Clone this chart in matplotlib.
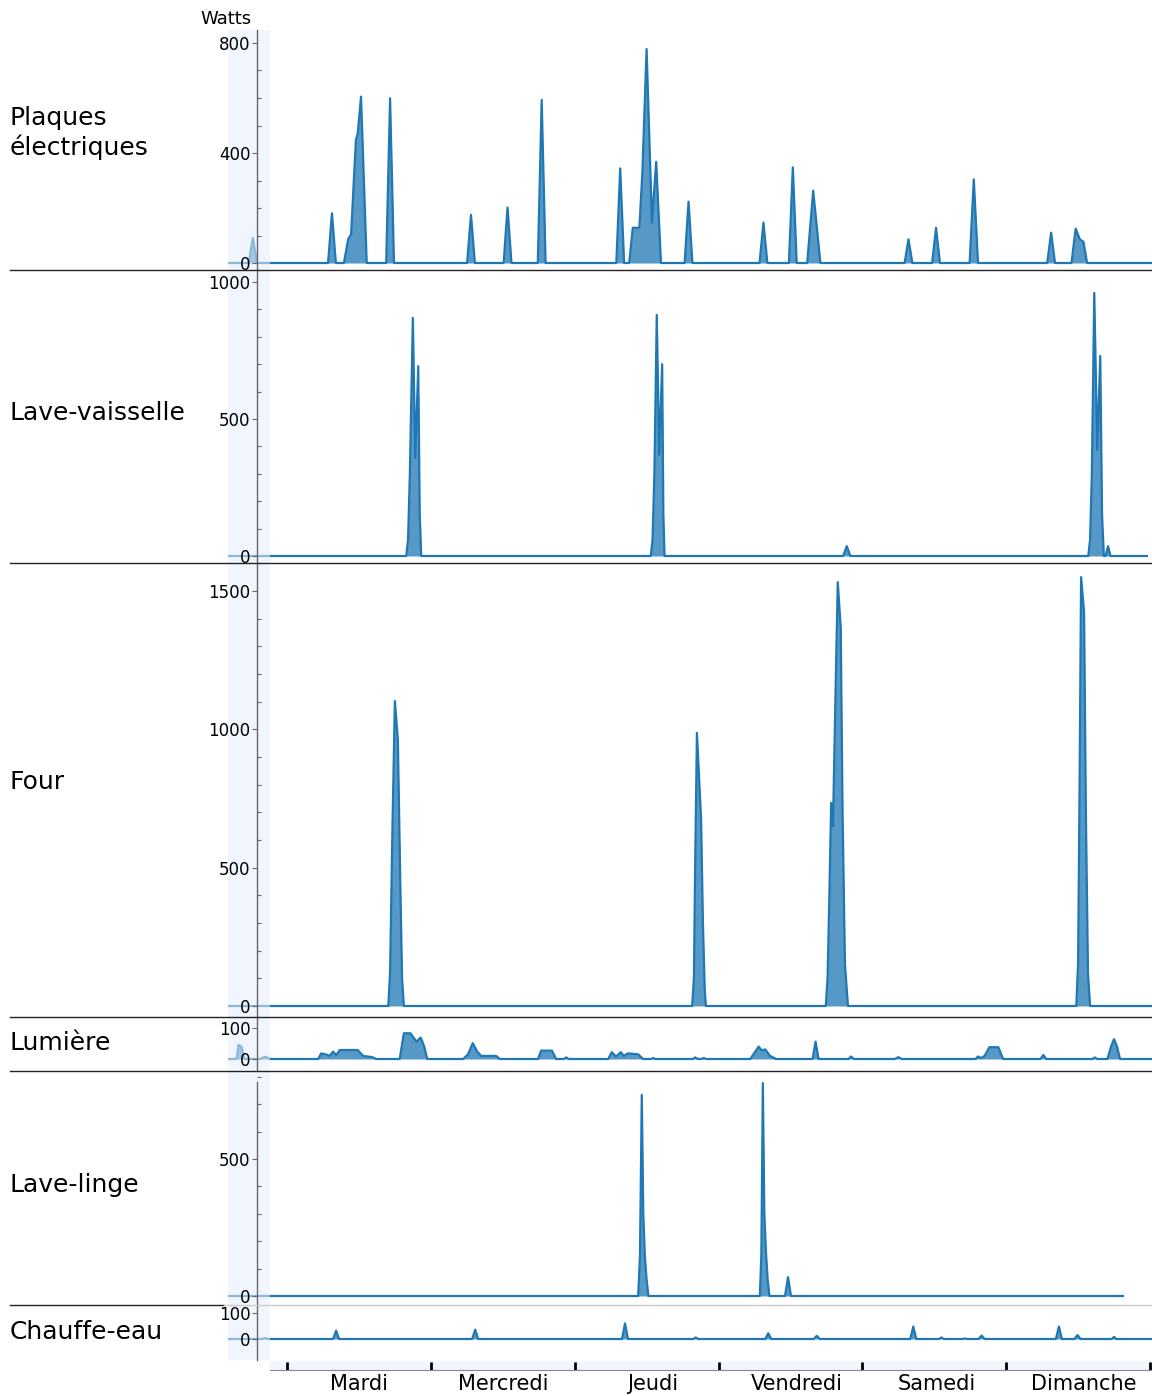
import matplotlib
matplotlib.use("Agg")
import matplotlib.pyplot as plt
from matplotlib.lines import Line2D
from matplotlib.ticker import MultipleLocator, FixedLocator

plt.rcParams['font.family'] = ['DejaVu Sans']

# ---------------- data (hours from Tuesday 00:00, Watts) ----------------
plaques_hours = [-9.8, -6.4, -5.7, -5.0,
                 6.85, 7.5, 8.15,
                 9.5, 10.2, 10.7, 11.5, 11.8, 12.35, 13.3,
                 16.55, 17.2, 17.85,
                 30.05, 30.7, 31.35,
                 36.15, 36.8, 37.45,
                 41.85, 42.5, 43.15,
                 54.95, 55.6, 56.25,
                 57.1, 57.7, 58.8, 59.3, 60.0, 60.9, 61.6, 62.4,
                 66.35, 67.0, 67.65,
                 78.85, 79.5, 80.15,
                 83.75, 84.4, 85.05,
                 86.8, 87.8, 89.0,
                 103.05, 103.7, 104.35,
                 107.65, 108.3, 108.95,
                 113.9, 114.6, 115.3,
                 126.85, 127.5, 128.15,
                 130.9, 131.6, 132.3, 132.9, 133.5,
                 144.4]
plaques_watts = [0, 0, 91, 0,
                 0, 181, 0,
                 0, 86, 105, 447, 470, 605, 0,
                 0, 599, 0,
                 0, 175, 0,
                 0, 202, 0,
                 0, 593, 0,
                 0, 344, 0,
                 0, 128, 128, 330, 778, 147, 368, 0,
                 0, 223, 0,
                 0, 147, 0,
                 0, 348, 0,
                 0, 263, 0,
                 0, 86, 0,
                 0, 128, 0,
                 0, 304, 0,
                 0, 110, 0,
                 0, 125, 86, 77, 0,
                 0]

lavevaisselle_hours = [-9.8, 19.9, 20.2, 20.5, 21.0, 21.4, 21.9, 22.15, 22.4,
                       60.7, 61.0, 61.3, 61.7, 62.1, 62.6, 62.8, 63.0,
                       92.8, 93.4, 94.0,
                       133.7, 134.0, 134.3, 134.7, 135.2, 135.7, 136.0, 136.3,
                       136.6, 137.0, 137.4, 143.5]
lavevaisselle_watts = [0, 0, 60, 300, 869, 358, 693, 150, 0,
                       0, 60, 300, 880, 369, 700, 150, 0,
                       0, 36, 0,
                       0, 60, 300, 960, 387, 730, 150, 0,
                       0, 36, 0, 0]

four_hours = [-9.8,
              16.9, 17.2, 17.6, 18.0, 18.5, 18.9, 19.2, 19.5,
              67.6, 67.9, 68.1, 68.4, 69.1, 69.4, 69.7, 69.9,
              89.9, 90.2, 90.5, 90.8, 91.1, 91.5, 91.9, 92.4, 92.7, 93.1, 93.6,
              131.7, 132.0, 132.25, 132.5, 133.0, 133.3, 133.65, 134.0,
              144.4]
four_watts = [0,
              0, 120, 650, 1102, 961, 450, 100, 0,
              0, 100, 500, 987, 672, 300, 60, 0,
              0, 100, 400, 734, 650, 1100, 1532, 1366, 700, 150, 0,
              0, 150, 800, 1550, 1424, 700, 120, 0,
              0]

lumiere_hours = [-9.8, -8.4, -8.1, -7.6, -7.1, -4.5, -3.6, -2.8,
                 5.2, 5.7, 6.6, 7.1, 7.7, 8.2, 8.8, 11.8, 12.7, 14.2, 14.9,
                 18.8, 19.5, 20.6, 21.6, 22.3, 22.9, 23.4,
                 29.4, 30.2, 31.0, 31.7, 32.4, 34.9, 35.5,
                 41.9, 42.4, 44.2, 44.9,
                 46.2, 46.6, 47.0,
                 53.6, 54.2, 54.9, 55.7, 56.2, 56.9, 58.6, 59.4,
                 60.7, 61.1, 61.5,
                 67.7, 68.1, 68.6, 69.1, 69.5, 70.0,
                 77.3, 78.7, 79.2, 79.8, 80.6, 81.6,
                 87.7, 88.2, 88.7,
                 93.7, 94.1, 94.6,
                 101.4, 102.0, 102.6,
                 114.9, 115.3, 115.8, 116.4, 117.2, 118.7, 119.5,
                 125.7, 126.2, 126.7,
                 134.4, 134.8, 135.2,
                 136.9, 137.5, 138.0, 138.5, 139.0,
                 144.4]
lumiere_watts = [0, 0, 45, 40, 0, 0, 7, 0,
                 0, 18, 14, 10, 24, 12, 29, 29, 10, 6, 0,
                 0, 83, 83, 56, 69, 40, 0,
                 0, 15, 51, 25, 10, 10, 0,
                 0, 27, 27, 0,
                 0, 5, 0,
                 0, 22, 8, 22, 10, 18, 15, 0,
                 0, 3, 0,
                 0, 5, 0, 0, 3, 0,
                 0, 40, 28, 31, 10, 0,
                 0, 56, 0,
                 0, 8, 0,
                 0, 6, 0,
                 0, 8, 3, 10, 38, 38, 0,
                 0, 13, 0,
                 0, 5, 0,
                 0, 40, 64, 40, 0,
                 0]

lavelinge_hours = [-9.8, 58.6, 58.9, 59.2, 59.45, 59.7, 60.0, 60.3,
                   78.9, 79.15, 79.4, 79.65, 79.9, 80.2, 80.5,
                   83.1, 83.6, 84.1, 139.5]
lavelinge_watts = [0, 0, 150, 734, 300, 150, 60, 0,
                   0, 150, 777, 300, 168, 60, 0,
                   0, 69, 0, 0]

chauffeeau_hours = [-9.8, -4.2, -3.7, -3.2,
                    7.7, 8.2, 8.7,
                    30.9, 31.4, 31.9,
                    55.9, 56.4, 56.9,
                    67.8, 68.2, 68.6,
                    79.8, 80.3, 80.8,
                    87.9, 88.4, 88.9,
                    104.0, 104.5, 105.0,
                    108.8, 109.2, 109.6,
                    112.7, 113.1, 113.5,
                    115.4, 115.9, 116.4,
                    128.3, 128.8, 129.3,
                    131.4, 131.9, 132.4,
                    137.6, 138.0, 138.4,
                    144.4]
chauffeeau_watts = [0, 0, 4, 0,
                    0, 32, 0,
                    0, 36, 0,
                    0, 60, 0,
                    0, 6, 0,
                    0, 22, 0,
                    0, 12, 0,
                    0, 48, 0,
                    0, 6, 0,
                    0, 2, 0,
                    0, 13, 0,
                    0, 48, 0,
                    0, 15, 0,
                    0, 8, 0,
                    0]

panel_names = ["Plaques\nélectriques", "Lave-vaisselle", "Four", "Lumière",
               "Lave-linge", "Chauffe-eau"]
panel_hours = [plaques_hours, lavevaisselle_hours, four_hours, lumiere_hours,
               lavelinge_hours, chauffeeau_hours]
panel_watts = [plaques_watts, lavevaisselle_watts, four_watts, lumiere_watts,
               lavelinge_watts, chauffeeau_watts]
panel_major = [[0, 400, 800], [0, 500, 1000], [0, 500, 1000, 1500], [0, 100],
               [0, 500], [0, 100]]

day_ticks = [0, 24, 48, 72, 96, 120, 144]
day_label_pos = [12.05, 36.1, 61.1, 85.0, 108.5, 133.0]
day_labels = ["Mardi", "Mercredi", "Jeudi", "Vendredi", "Samedi", "Dimanche"]

# ---------------- layout (pixels) ----------------
W, H = 1152, 1396
PXH = 863 / 144.0          # pixels per hour
X0PX = 287                 # pixel of hour 0


def hx(px):
    return (px - X0PX) / PXH


def rect(x0, y0, x1, y1):
    return [x0 / W, 1 - y1 / H, (x1 - x0) / W, (y1 - y0) / H]


# top px, bottom px, zero px, px per watt, minor step, spine top (W), label y px
layout = [
    (30, 270, 263, 0.275, 100, None, 133),
    (270, 563, 556, 0.274, 100, None, 413),
    (563, 1017, 1006, 0.2767, 100, None, 782),
    (1017, 1071, 1059, 0.31, None, None, 1043),
    (1071, 1305, 1296, 0.274, 100, 781, 1185),
    (1305, 1360, 1339, 0.26, None, None, 1332),
]

COLOR = "#1f77b4"
SPINE = "#666666"
BAND = "#e6eefd"

fig = plt.figure(figsize=(W / 100, H / 100), dpi=100)
fig.patch.set_facecolor("white")

xl = (hx(228), hx(1152))
spine_h = hx(257)

for i, (T, B, Z, s, minor, stop, ly) in enumerate(layout):
    ax = fig.add_axes(rect(228, T, 1152, B))
    ax.set_facecolor("none")
    ax.set_xlim(*xl)
    lo, hi = -(B - Z) / s, (Z - T) / s
    ax.set_ylim(lo, hi)
    for sp in ("top", "right", "bottom"):
        ax.spines[sp].set_visible(False)
    ax.spines["left"].set_position(("data", spine_h))
    ax.spines["left"].set_color(SPINE)
    ax.spines["left"].set_linewidth(1.0)
    if stop is not None:
        ax.spines["left"].set_bounds(lo, stop)
    ax.set_xticks([])
    ax.set_yticks(panel_major[i])
    if minor:
        ax.yaxis.set_minor_locator(MultipleLocator(minor))
    ax.tick_params(axis="y", which="major", direction="out", length=3.6,
                   width=0.8, color=SPINE, labelsize=12, pad=1)
    ax.tick_params(axis="y", which="minor", direction="in", length=3,
                   width=0.8, color=SPINE)
    ax.set_axisbelow(False)
    ax.fill_between(panel_hours[i], 0, panel_watts[i], color=COLOR, alpha=0.75,
                    lw=0, zorder=1.9)
    ax.plot(panel_hours[i], panel_watts[i], color=COLOR, lw=1.6, zorder=2,
            solid_joinstyle="round")
    ax.axvspan(xl[0], hx(270), color=BAND, alpha=0.55, lw=0, zorder=2.2)
    fig.text(10 / W, 1 - ly / H, panel_names[i], fontsize=18, ha="left",
             va="center", linespacing=1.25)

# separators
for y in (270, 563, 1017, 1071):
    fig.add_artist(Line2D([10 / W, 1], [1 - y / H] * 2, color="#222222", lw=1.0))
fig.add_artist(Line2D([10 / W, 224 / W], [1 - 1305 / H] * 2, color="#222222", lw=1.0))
fig.add_artist(Line2D([224 / W, 1], [1 - 1305 / H] * 2, color="#cccccc", lw=1.0))

# bottom time axis
axb = fig.add_axes(rect(270, 1361, 1152, 1370))
axb.set_facecolor("#f2f6fe")
axb.set_xlim(hx(270), hx(1152))
axb.set_ylim(0, 1)
for sp in ("top", "right", "left"):
    axb.spines[sp].set_visible(False)
axb.spines["bottom"].set_color("#888888")
axb.set_yticks([])
axb.set_xticks(day_ticks)
axb.set_xticklabels([])
axb.xaxis.set_minor_locator(FixedLocator(day_label_pos))
axb.set_xticks(day_label_pos, labels=day_labels, minor=True)
axb.tick_params(axis="x", which="major", direction="in", length=6,
                width=2, color="black")
axb.tick_params(axis="x", which="minor", length=0, labelsize=15, pad=3)

fig.text(226 / W, 1 - 19 / H, "Watts", fontsize=13, ha="center", va="center")

fig.savefig("out.png", dpi=100)
